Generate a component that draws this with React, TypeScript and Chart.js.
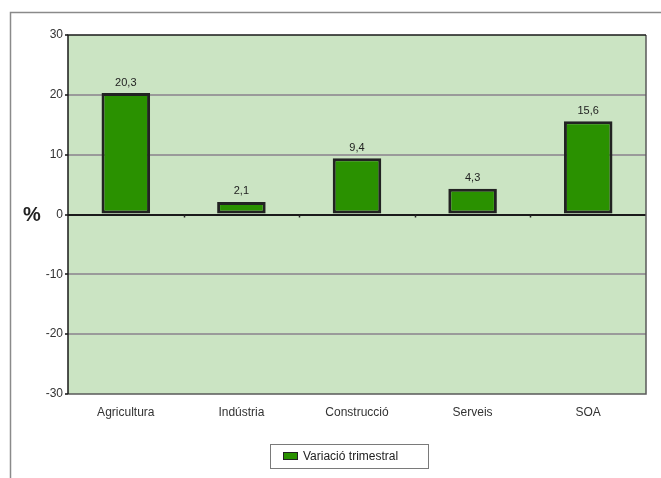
import React, { useEffect, useRef } from "react";
import { Chart, registerables } from "chart.js";

Chart.register(...registerables);

const categories = ["Agricultura", "Indústria", "Construcció", "Serveis", "SOA"];
const values = [20.3, 2.1, 9.4, 4.3, 15.6];
const seriesLabel = "Variació trimestral";
const yTicks = [-30, -20, -10, 0, 10, 20, 30];
const axisTitle = "%";

const FONT = "'Liberation Sans', Arial, sans-serif";
const BAR_COLOR = "#2a9100";
const BAR_BORDER = "#222222";
const PLOT_BG = "#cbe4c3";

const decorPlugin = {
  id: "decor",
  beforeDraw(chart: any) {
    const { ctx, chartArea } = chart;
    ctx.save();
    ctx.strokeStyle = "#8a8a8a";
    ctx.lineWidth = 1.5;
    ctx.beginPath();
    ctx.moveTo(10.5, 478);
    ctx.lineTo(10.5, 12.5);
    ctx.lineTo(661, 12.5);
    ctx.stroke();
    ctx.fillStyle = PLOT_BG;
    ctx.fillRect(chartArea.left, chartArea.top, chartArea.right - chartArea.left, chartArea.bottom - chartArea.top);
    ctx.restore();
  },
  afterDraw(chart: any) {
    const { ctx, chartArea } = chart;
    const yScale = chart.scales.y;
    ctx.save();
    ctx.lineWidth = 1.5;
    ctx.strokeStyle = "#5a5a5a";
    ctx.beginPath();
    ctx.moveTo(chartArea.right, chartArea.top);
    ctx.lineTo(chartArea.right, chartArea.bottom);
    ctx.lineTo(chartArea.left, chartArea.bottom);
    ctx.stroke();
    ctx.strokeStyle = "#1a1a1a";
    ctx.beginPath();
    ctx.moveTo(chartArea.left, chartArea.bottom);
    ctx.lineTo(chartArea.left, chartArea.top);
    ctx.lineTo(chartArea.right, chartArea.top);
    ctx.stroke();
    const y0 = yScale.getPixelForValue(0);
    const n = categories.length;
    const step = (chartArea.right - chartArea.left) / n;
    ctx.strokeStyle = "#222";
    ctx.lineWidth = 1.5;
    for (let i = 1; i < n; i++) {
      const x = Math.round(chartArea.left + step * i) + 0.5;
      ctx.beginPath();
      ctx.moveTo(x, y0);
      ctx.lineTo(x, y0 + 3);
      ctx.stroke();
    }
    const meta = chart.getDatasetMeta(0);
    ctx.fillStyle = "#222";
    ctx.font = `11px ${FONT}`;
    ctx.textAlign = "center";
    ctx.textBaseline = "bottom";
    meta.data.forEach((bar: any, i: number) => {
      const v = values[i];
      ctx.fillText(v.toFixed(1).replace(".", ","), bar.x, bar.y - 5);
    });
    ctx.font = `bold 20px ${FONT}`;
    ctx.fillStyle = "#222";
    ctx.textAlign = "center";
    ctx.textBaseline = "middle";
    ctx.fillText(axisTitle, 32, y0 + 1);
    const lx = 270, ly = 444, lw = 158, lh = 24;
    ctx.fillStyle = "#ffffff";
    ctx.fillRect(lx, ly, lw, lh);
    ctx.strokeStyle = "#7a7a7a";
    ctx.lineWidth = 1;
    ctx.strokeRect(lx + 0.5, ly + 0.5, lw, lh);
    ctx.fillStyle = BAR_COLOR;
    ctx.fillRect(283.5, 452.5, 14, 7);
    ctx.strokeStyle = BAR_BORDER;
    ctx.strokeRect(283.5, 452.5, 14, 7);
    ctx.fillStyle = "#222";
    ctx.font = `12px ${FONT}`;
    ctx.textAlign = "left";
    ctx.textBaseline = "middle";
    ctx.fillText(seriesLabel, 303, 456.5);
    ctx.restore();
  },
};

export default function App() {
  const ref = useRef<HTMLCanvasElement | null>(null);
  useEffect(() => {
    document.body.style.margin = "0";
    const canvas = ref.current;
    if (!canvas) return;
    const chart = new Chart(canvas, {
      type: "bar",
      data: {
        labels: categories,
        datasets: [
          {
            label: seriesLabel,
            data: values,
            backgroundColor: BAR_COLOR,
            borderColor: BAR_BORDER,
            borderWidth: 3,
            borderSkipped: false,
            categoryPercentage: 1,
            barPercentage: 0.42,
          },
        ],
      },
      options: {
        responsive: false,
        animation: false,
        devicePixelRatio: 1,
        layout: { padding: { left: 0, right: 15, top: 35, bottom: 54 } },
        plugins: { legend: { display: false }, tooltip: { enabled: false } },
        scales: {
          x: {
            grid: { display: false, drawTicks: false },
            border: { display: false },
            ticks: { color: "#333", font: { family: FONT, size: 12 }, padding: 11, maxRotation: 0 },
            afterFit(scale: any) {
              scale.height = 30;
            },
          },
          y: {
            min: -30,
            max: 30,
            afterBuildTicks(scale: any) {
              scale.ticks = yTicks.map((v) => ({ value: v }));
            },
            grid: {
              color: (c: any) => {
                const v = c.tick ? c.tick.value : null;
                if (v === 0) return "#1a1a1a";
                if (v === 30 || v === -30) return "rgba(0,0,0,0)";
                return "#9a9a9a";
              },
              lineWidth: 2,
              tickLength: 3,
              tickColor: "#111",
              tickWidth: 1.5,
            },
            border: { display: false },
            ticks: {
              color: "#333",
              font: { family: FONT, size: 12 },
              padding: 2,
              callback: (v: any) => String(v),
            },
            afterFit(scale: any) {
              scale.width = 68;
            },
          },
        },
      },
      plugins: [decorPlugin],
    });
    return () => chart.destroy();
  }, []);
  return (
    <div style={{ position: "absolute", left: 0, top: 0, width: 661, height: 478, background: "#fff" }}>
      <canvas ref={ref} width={661} height={478} style={{ display: "block" }} />
    </div>
  );
}
